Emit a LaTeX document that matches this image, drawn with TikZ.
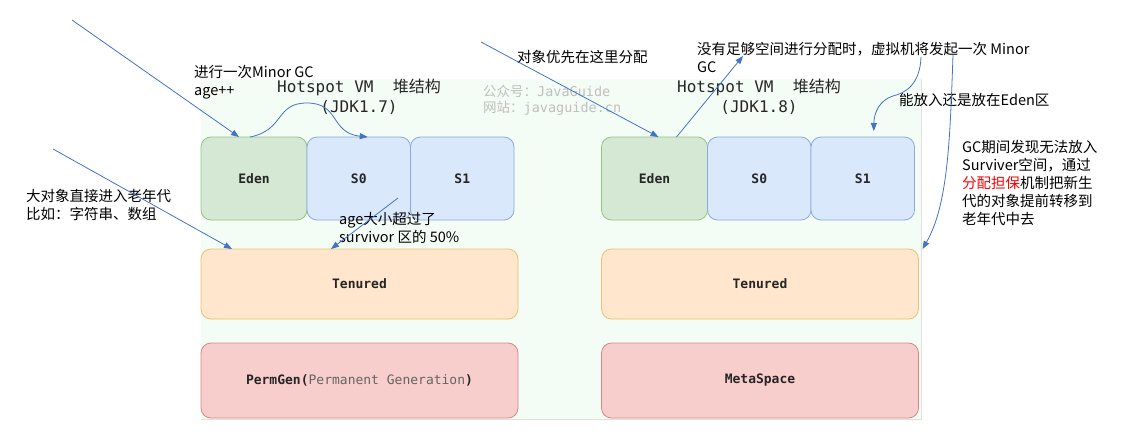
\documentclass[tikz,border=0pt]{standalone}
\usepackage{fontspec}
\setmonofont{DejaVu Sans Mono}
\newfontfamily\cjk{Noto Sans CJK SC}
\usetikzlibrary{positioning,arrows.meta}

\definecolor{fondo}{RGB}{243,253,245}
\definecolor{azul}{RGB}{68,114,196}
\definecolor{edenfill}{HTML}{D5E8D4}
\definecolor{edenline}{RGB}{150,195,130}
\definecolor{survfill}{HTML}{DAE8FC}
\definecolor{survline}{RGB}{140,170,215}
\definecolor{oldfill}{HTML}{FFE6CC}
\definecolor{oldline}{RGB}{232,195,110}
\definecolor{permfill}{HTML}{F8CECC}
\definecolor{permline}{RGB}{215,135,132}
\definecolor{textogris}{RGB}{100,100,100}

\begin{document}
\begin{tikzpicture}[x=1pt, y=-1pt]

\useasboundingbox (0,0) rectangle (1137,444);

% Define styles for the heap regions
\tikzstyle{region} = [rectangle, rounded corners=10pt, line width=0.8pt, inner sep=0pt, outer sep=0pt, text=black!85, font=\ttfamily\bfseries\fontsize{13}{15}\selectfont]
\tikzstyle{eden} = [region, fill=edenfill, draw=edenline, minimum width=106pt, minimum height=83pt]
\tikzstyle{surv} = [region, fill=survfill, draw=survline, minimum width=103.5pt, minimum height=83pt]
\tikzstyle{old} = [region, fill=oldfill, draw=oldline, minimum width=317pt, minimum height=70pt]
\tikzstyle{perm} = [region, fill=permfill, draw=permline, minimum width=317pt, minimum height=75pt]

% Titles, watermark and notes
\tikzstyle{titulo} = [align=center, inner sep=0pt, text=black!85, font=\ttfamily\fontsize{16}{20}\selectfont]
\tikzstyle{marca} = [anchor=west, align=left, inner sep=0pt, text=black!25, font=\ttfamily\fontsize{13.5}{16}\selectfont]
\tikzstyle{nota} = [anchor=west, align=left, inner sep=0pt, font=\cjk\fontsize{14.5}{18}\selectfont]
\tikzstyle{flecha} = [draw=azul, line width=0.8pt, -{Triangle[length=8pt, width=6pt]}]

% Background panel
\fill[fondo] (201,79) rectangle (921,419);
\draw[black!12] (201,419) -- (921,419) -- (921,79);

% JDK 1.7
\node[titulo] (tit17) at (359,97) {Hotspot VM\ \ {\cjk 堆结构}\\(JDK1.7)};
\node[eden] (eden17) at (254,178.5) {Eden};
\node[surv, right=0pt of eden17] (s017) {S0};
\node[surv, right=0pt of s017] (s117) {S1};
\node[old] (ten17) at (359.5,284) {Tenured};
\node[perm] (perm17) at (359.5,380.5) {PermGen({\mdseries\color{textogris}Permanent Generation})};

% JDK 1.8
\node[titulo] (tit18) at (759,97) {Hotspot VM\ \ {\cjk 堆结构}\\(JDK1.8)};
\node[eden] (eden18) at (654.5,178.5) {Eden};
\node[surv, right=0pt of eden18] (s018) {S0};
\node[surv, right=0pt of s018] (s118) {S1};
\node[old] (ten18) at (760,284) {Tenured};
\node[perm] (meta18) at (760,380.5) {MetaSpace};

\node[marca] (marca) at (483,100) {{\cjk 公众号：}JavaGuide\\{\cjk 网站：}javaguide.cn};

% Notes
\node[nota] (minorgc) at (194,82) {进行一次Minor GC\\age++};
\node[nota] (prioridad) at (517,57) {对象优先在这里分配};
\node[nota] (sinespacio) at (697,57.5) {没有足够空间进行分配时，虚拟机将发起一次 Minor\\GC};
\node[nota] (cabe) at (899,100) {能放入还是放在Eden区};
\node[nota] (garantia) at (962,182.5) {GC期间发现无法放入\\Surviver空间，通过\\\textcolor{red}{分配担保}机制把新生\\代的对象提前转移到\\老年代中去};
\node[nota] (grande) at (26,204.5) {大对象直接进入老年代\\比如：字符串、数组};
\node[nota] (edad) at (339,228) {age大小超过了\\survivor 区的 50\%};

% Arrows
\coordinate (c1) at (72,20);
\coordinate (c3) at (53,149);
\coordinate (c4) at (398,198);
\coordinate (c5) at (481,42);
\coordinate (c6) at (743,56);
\coordinate (c7) at (921,57);
\coordinate (c8) at (953,55);

\draw[flecha] (c1) -- ([xshift=-15pt]eden17.north);
\draw[flecha] ([xshift=-4pt]eden17.north) .. controls (285,130) and (275,103) .. (307,103) .. controls (340,103) and (330,133) .. ([xshift=9pt]s017.north);
\draw[flecha] (c3) -- ([xshift=31pt]ten17.north west);
\draw[flecha] (c4) -- ([xshift=130pt]ten17.north west);
\draw[flecha] (c5) -- ([xshift=4pt]eden18.north);
\draw[flecha] ([xshift=22pt]eden18.north) -- (c6);
\draw[flecha] (c7) .. controls (920,85) and (905,93) .. (893,96) .. controls (880,100) and (874,112) .. ([xshift=11pt,yshift=6pt]s118.north);
\draw[flecha] (c8) .. controls (950,140) and (948,205) .. ([xshift=4pt]ten18.north east);

\end{tikzpicture}
\end{document}
